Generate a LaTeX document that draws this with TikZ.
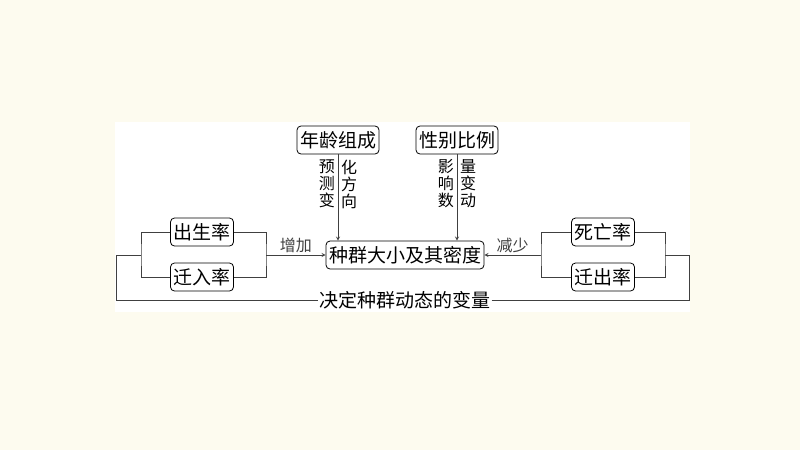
\documentclass[tikz,border=0pt]{standalone}
\usepackage{fontspec}
\setmainfont{Noto Sans CJK SC}
\usetikzlibrary{positioning}
\definecolor{cream}{HTML}{FDFBEF}
\tikzset{
  box/.style={draw, rounded corners=4pt, thick, inner sep=3pt, minimum height=28pt, font=\fontsize{19}{20}\selectfont},
  lbl/.style={font=\fontsize{16}{17}\selectfont, inner sep=1pt},
  vlbl/.style={font=\fontsize{16}{17}\selectfont, align=center, inner sep=1pt},
  line/.style={thick, color=black!75}
}
\begin{document}
\begin{tikzpicture}[x=1pt,y=-1pt]
\useasboundingbox[fill=cream] (0,0) rectangle (800,450);
\fill[white] (115,122) rectangle (690,312);
% boxes
\node[box] (age) at (338,140) {年龄组成};
\node[box] (sex) at (457,140) {性别比例};
\node[box] (pop) at (405,255) {种群大小及其密度};
\node[box] (birth) at (202,232) {出生率};
\node[box] (immi) at (202,277) {迁入率};
\node[box] (death) at (603,232) {死亡率};
\node[box] (emi) at (603,277) {迁出率};
\node[lbl] (var) at (405,300) {\fontsize{19}{20}\selectfont 决定种群动态的变量};
% brackets
\coordinate (lb) at (141,255);
\coordinate (rb) at (266,255);
\coordinate (ld) at (541,255);
\coordinate (rd) at (665,255);
\coordinate (lf) at (116,255);
\coordinate (rf) at (689,255);
\draw[line] (birth.west) -| (lb) |- (immi.west);
\draw[line] (birth.east) -| (rb) |- (immi.east);
\draw[line] (death.west) -| (ld) |- (emi.west);
\draw[line] (death.east) -| (rd) |- (emi.east);
% arrows
\draw[line, ->, >=stealth] (rb) -- node[lbl, above=1pt] {增加} (pop.west);
\draw[line, ->, >=stealth] (ld) -- node[lbl, above=1pt] {减少} (pop.east);
\draw[line, ->, >=stealth] (age.south) -- (age.south |- pop.north);
\draw[line, ->, >=stealth] (sex.south) -- (sex.south |- pop.north);
\node[vlbl, left=2pt of age.south, anchor=north east, yshift=-4pt] {预\\测\\变};
\node[vlbl, right=2pt of age.south, anchor=north west, yshift=-4pt] {化\\方\\向};
\node[vlbl, left=2pt of sex.south, anchor=north east, yshift=-4pt] {影\\响\\数};
\node[vlbl, right=2pt of sex.south, anchor=north west, yshift=-4pt] {量\\变\\动};
% feedback loop
\draw[line] (lb) -- (lf) |- (var.west);
\draw[line] (var.east) -| (rf) -- (rd);
\end{tikzpicture}
\end{document}
